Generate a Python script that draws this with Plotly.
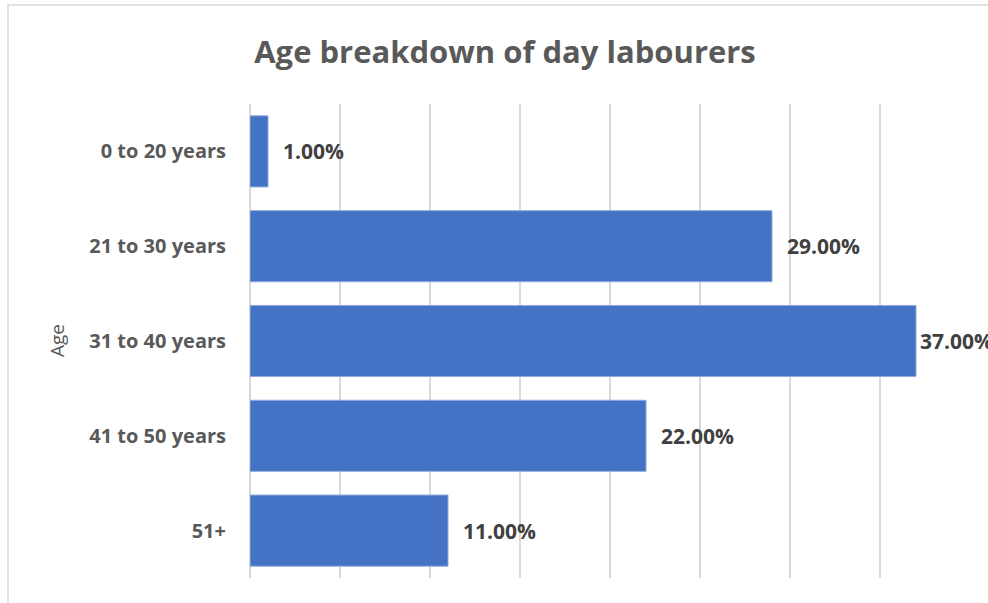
import plotly.graph_objects as go

# Share of day labourers by age group (percent)
age_groups = ["0 to 20 years", "21 to 30 years", "31 to 40 years", "41 to 50 years", "51+"]
shares = [1, 29, 37, 22, 11]
label_shift = [13, 13, 2, 13, 13]

W, H = 988, 603
L, R, T, B = 250, 18, 104, 25
FONT = "Open Sans"

fig = go.Figure()
fig.add_trace(go.Bar(
    y=age_groups,
    x=shares,
    orientation="h",
    marker=dict(color="#4472C4", line=dict(color="#8FAADC", width=1)),
    hoverinfo="skip",
))

# value labels to the right of each bar
for cat, val, dx in zip(age_groups, shares, label_shift):
    fig.add_annotation(
        x=val, y=cat, xref="x", yref="y",
        text=f"{val:.2f}%", showarrow=False,
        xanchor="left", yanchor="middle", xshift=dx,
        font=dict(family=FONT, size=21, color="#404040", weight="bold"),
    )

# outer chart frame
pw = W - L - R
ph = H - T - B
fig.add_shape(
    type="rect", xref="paper", yref="paper",
    x0=(8 - L) / pw, x1=(1100 - L) / pw,
    y0=(H - B - 700) / ph, y1=(H - B - 5) / ph,
    line=dict(color="#D9D9D9", width=1.5), fillcolor="rgba(0,0,0,0)",
    layer="below",
)

# axis title
fig.add_annotation(
    x=(57 - L) / pw, y=(H - B - 341) / ph, xref="paper", yref="paper",
    xanchor="center", yanchor="middle",
    text="Age", textangle=-90, showarrow=False,
    font=dict(family=FONT, size=19, color="#595959"),
)

fig.update_layout(
    width=W, height=H,
    margin=dict(l=L, r=R, t=T, b=B),
    paper_bgcolor="white", plot_bgcolor="white",
    bargap=0.25,
    showlegend=False,
    title=dict(
        text="Age breakdown of day labourers",
        x=505 / W, xanchor="center", y=1 - 52 / H, yanchor="middle",
        font=dict(family=FONT, size=31, color="#595959", weight="bold"),
    ),
    xaxis=dict(
        range=[0, 40], dtick=5, showticklabels=False,
        showgrid=True, gridcolor="#D9D9D9", gridwidth=1.5,
        zeroline=True, zerolinecolor="#D9D9D9", zerolinewidth=1.5,
        showline=False, fixedrange=True,
    ),
    yaxis=dict(
        autorange="reversed", showgrid=False, showline=False, zeroline=False,
        ticks="outside", ticklen=19, tickcolor="rgba(0,0,0,0)",
        tickfont=dict(family=FONT, size=20, color="#595959", weight="bold"),
    ),
)

fig.write_html("out.html")
